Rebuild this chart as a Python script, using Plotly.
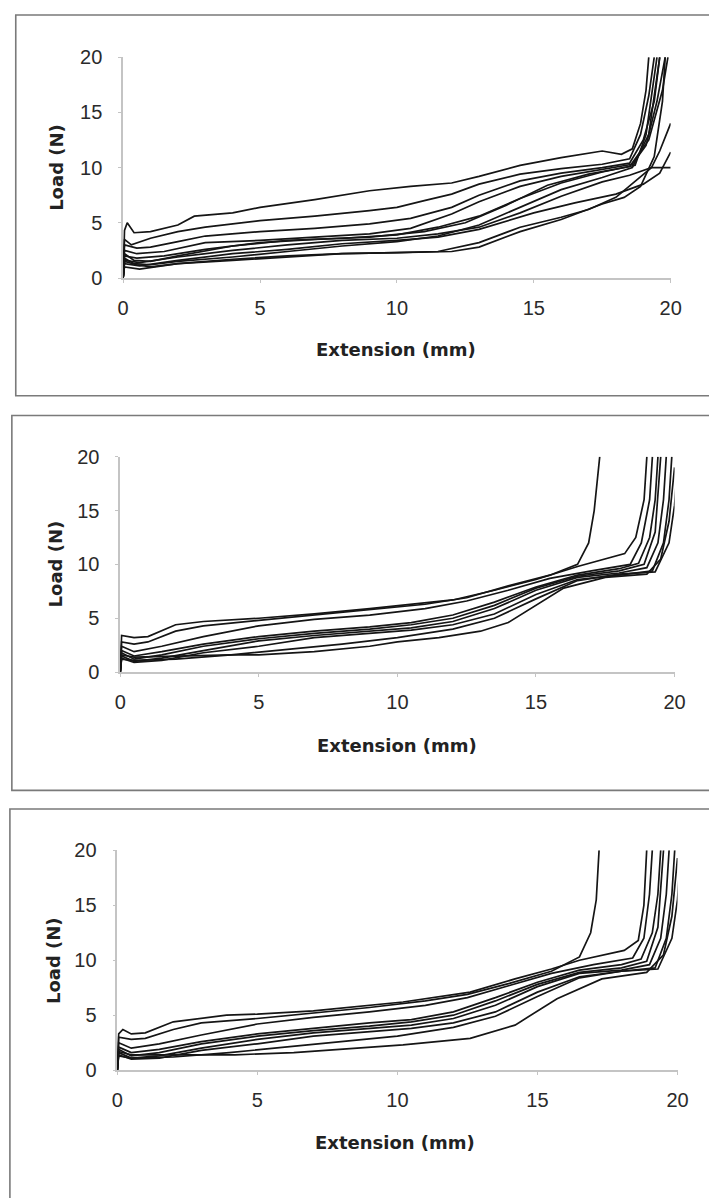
import plotly.graph_objects as go

W, H = 709, 1198

TICKS = [0, 5, 10, 15, 20]
X_TITLE = "Extension (mm)"
Y_TITLE = "Load (N)"

# ---------------- Panel 1 curves (extension mm, load N) ----------------
P1_A = ([0, 0.05, 0.15, 0.4, 1, 2, 2.6, 4, 5, 7, 9, 10.5, 12, 13, 14.5, 16, 17.5, 18.2, 18.6, 18.9, 19.1, 19.2],
        [0, 4.3, 5.0, 4.1, 4.2, 4.8, 5.6, 5.9, 6.4, 7.1, 7.9, 8.3, 8.6, 9.2, 10.2, 10.9, 11.5, 11.2, 11.7, 14.0, 17.0, 20.0])
P1_B = ([0, 0.05, 0.3, 1, 2, 3, 5, 7, 9, 10, 11, 12, 13, 14.5, 16, 17.5, 18.5, 18.9, 19.2, 19.4],
        [0, 3.5, 3.0, 3.6, 4.2, 4.6, 5.2, 5.6, 6.1, 6.4, 7.0, 7.6, 8.5, 9.4, 9.9, 10.3, 10.8, 13.0, 16.5, 20.0])
P1_C = ([0, 0.05, 0.5, 1, 2, 3, 5, 7, 9, 10.5, 12, 13, 14.5, 16, 17.5, 18.5, 19.0, 19.4, 19.6],
        [0, 3.0, 2.7, 2.8, 3.3, 3.8, 4.2, 4.5, 4.9, 5.4, 6.4, 7.5, 8.8, 9.5, 10.0, 10.4, 12.5, 16.0, 20.0])
P1_D = ([0, 0.05, 0.5, 1.5, 3, 5, 7, 9, 10.5, 12, 13, 14.5, 16, 17.5, 18.6, 19.1, 19.5, 19.8],
        [0, 2.5, 2.2, 2.4, 3.2, 3.4, 3.7, 4.0, 4.5, 5.8, 6.9, 8.3, 9.2, 9.8, 10.3, 12.0, 16.0, 20.0])
P1_E = ([0, 0.05, 0.5, 1.5, 3, 5, 7, 9, 11, 12.5, 14, 15.5, 17, 18.5, 19.2, 19.7, 19.9],
        [0, 2.0, 1.8, 2.0, 2.6, 3.2, 3.5, 3.7, 4.2, 5.0, 6.6, 8.4, 9.4, 10.1, 12.5, 17.0, 20.0])
P1_F = ([0, 0.05, 0.6, 2, 4, 6, 8, 10, 11.5, 13, 14.5, 16, 17.5, 18.5, 19.3, 19.6, 20.0],
        [0, 1.6, 1.4, 1.9, 2.5, 3.0, 3.4, 3.6, 4.0, 4.6, 5.9, 7.4, 8.7, 9.3, 10.0, 11.5, 14.0])
P1_G = ([0, 0.05, 0.6, 2, 4, 6, 8, 10, 11.5, 13, 15, 16.5, 18, 19, 19.6, 20.0],
        [0, 1.3, 1.1, 1.6, 2.2, 2.6, 3.1, 3.4, 3.7, 4.4, 5.9, 6.8, 7.6, 8.5, 9.5, 11.4])
P1_H = ([0, 0.05, 0.6, 2, 4, 6, 8, 10, 11.5, 13, 14.5, 16, 17, 18, 18.8, 19.3, 20.0],
        [0, 1.0, 0.8, 1.3, 1.6, 1.9, 2.2, 2.3, 2.4, 3.2, 4.6, 5.5, 6.2, 7.3, 9.0, 10.0, 10.0])
P1_I = ([0, 0.05, 0.5, 1, 2, 4, 6, 8, 10, 12, 13, 14.5, 16, 17.5, 18.3, 18.9, 19.4, 19.7, 19.8],
        [0, 1.5, 1.2, 1.0, 1.3, 1.7, 2.0, 2.2, 2.3, 2.4, 2.8, 4.2, 5.3, 6.7, 7.3, 8.3, 11.0, 16.0, 20.0])
P1_J = ([0, 0.05, 0.4, 1, 2, 4, 6, 8, 10, 11.5, 13, 14.5, 16, 17.5, 18.7, 19.1, 19.5],
        [0, 2.2, 1.6, 1.5, 2.0, 2.9, 3.4, 3.6, 3.9, 4.6, 5.6, 7.2, 8.6, 9.6, 10.2, 13.0, 20.0])
P1_K = ([0, 0.05, 0.4, 1, 2, 4, 6, 8, 10, 11.5, 13, 14.5, 16, 17.5, 18.6, 19.2, 19.6],
        [0, 1.8, 1.3, 1.2, 1.5, 1.9, 2.4, 2.9, 3.3, 3.8, 4.8, 6.4, 8.0, 9.1, 10.0, 13.0, 20.0])
PANEL1 = [P1_A, P1_B, P1_C, P1_D, P1_E, P1_F, P1_G, P1_H, P1_I, P1_J, P1_K]

# ---------------- Panel 2 curves ----------------
P2_A = ([0, 0.05, 0.5, 1, 2, 3, 5, 7, 9, 10.5, 12, 13.5, 15, 16.5, 17.5, 18.2, 18.6, 18.9, 19.0],
        [0, 3.4, 3.2, 3.3, 4.4, 4.7, 5.0, 5.4, 5.9, 6.3, 6.7, 7.6, 8.6, 9.8, 10.5, 11.0, 12.5, 16.0, 20.0])
P2_B = ([0, 0.05, 0.5, 1, 2, 3, 5, 7, 9, 11, 12.5, 14, 15.5, 16.5, 16.9, 17.1, 17.3],
        [0, 2.8, 2.6, 2.8, 3.8, 4.3, 4.8, 5.3, 5.8, 6.3, 6.9, 8.0, 9.0, 10.0, 12.0, 15.0, 20.0])
P2_C = ([0, 0.05, 0.5, 1.5, 3, 5, 7, 9, 11, 12.5, 14, 15.5, 17, 18.4, 18.8, 19.1, 19.2],
        [0, 2.4, 1.9, 2.4, 3.3, 4.3, 4.9, 5.3, 5.9, 6.6, 7.6, 8.7, 9.4, 10.0, 12.0, 16.0, 20.0])
P2_D = ([0, 0.05, 0.5, 1.5, 3, 5, 7, 9, 10.5, 12, 13.5, 15, 16.5, 18, 18.7, 19.1, 19.3, 19.4],
        [0, 2.0, 1.5, 1.9, 2.6, 3.3, 3.8, 4.2, 4.6, 5.3, 6.5, 7.9, 9.0, 9.6, 10.1, 12.5, 16.0, 20.0])
P2_E = ([0, 0.05, 0.5, 1.5, 3, 5, 7, 9, 10.5, 12, 13.5, 15, 16.5, 18, 18.9, 19.3, 19.5],
        [0, 1.8, 1.2, 1.6, 2.4, 3.1, 3.6, 4.0, 4.4, 5.0, 6.2, 7.8, 8.9, 9.4, 10.0, 13.0, 20.0])
P2_F = ([0, 0.05, 0.5, 1.5, 3, 5, 7, 9, 10.5, 12, 13.5, 15, 16.5, 18, 19.0, 19.4, 19.6, 19.7],
        [0, 1.5, 1.0, 1.3, 2.0, 2.9, 3.4, 3.8, 4.1, 4.7, 5.9, 7.6, 8.8, 9.2, 9.7, 12.0, 16.0, 20.0])
P2_G = ([0, 0.05, 0.5, 1.5, 3, 5, 7, 9, 10.5, 12, 13.5, 15, 16.5, 18, 19.2, 19.6, 19.8, 19.9],
        [0, 1.3, 0.9, 1.1, 1.8, 2.4, 3.2, 3.6, 3.9, 4.4, 5.4, 7.2, 8.6, 9.0, 9.4, 12.0, 16.0, 20.0])
P2_H = ([0, 0.05, 0.5, 2, 4, 6, 8, 10, 12, 13.5, 15, 16.5, 18, 19.3, 19.8, 20.0, 20.1],
        [0, 1.2, 1.1, 1.2, 1.6, 2.1, 2.6, 3.2, 4.0, 5.0, 6.8, 8.5, 9.1, 9.3, 12.0, 15.5, 19.0])
P2_I = ([0, 0.05, 0.5, 2, 4, 5, 7, 9, 10, 11.5, 13, 14, 15, 16, 17.5, 19, 19.5, 19.8, 20.0],
        [0, 1.6, 1.4, 1.5, 1.6, 1.6, 1.9, 2.4, 2.8, 3.2, 3.8, 4.6, 6.2, 7.8, 8.8, 9.1, 10.5, 14.0, 19.0])
PANEL2 = [P2_A, P2_B, P2_C, P2_D, P2_E, P2_F, P2_G, P2_H, P2_I]

# ---------------- Panel 3 curves ----------------
P3_A = ([0, 0.05, 0.2, 0.5, 1, 2, 3.9, 5, 7, 9, 10.2, 12.6, 14.2, 15.5, 16.5, 18.1, 18.6, 18.8, 18.9],
        [0, 3.3, 3.7, 3.3, 3.4, 4.4, 5.0, 5.1, 5.4, 5.9, 6.2, 7.1, 8.3, 9.2, 10.0, 10.9, 11.8, 15.0, 20.0])
P3_B = ([0, 0.05, 0.5, 1, 2, 3, 5, 7, 9, 11, 12.5, 14, 15.5, 16.5, 16.9, 17.1, 17.2],
        [0, 3.0, 2.8, 2.9, 3.7, 4.3, 4.7, 5.2, 5.7, 6.3, 6.9, 7.9, 9.0, 10.3, 12.5, 15.5, 20.0])
P3_C = ([0, 0.05, 0.5, 1.5, 3, 5, 7, 9, 11, 12.5, 14, 15.5, 17, 18.4, 18.8, 19.0, 19.1],
        [0, 2.5, 2.0, 2.4, 3.2, 4.2, 4.8, 5.3, 5.9, 6.6, 7.7, 8.8, 9.6, 10.2, 12.0, 16.0, 20.0])
P3_D = ([0, 0.05, 0.5, 1.5, 3, 5, 7, 9, 10.5, 12, 13.5, 15, 16.5, 18, 18.7, 19.1, 19.3, 19.4],
        [0, 2.1, 1.6, 1.9, 2.6, 3.3, 3.8, 4.3, 4.6, 5.3, 6.6, 8.0, 9.1, 9.6, 10.1, 12.5, 16.0, 20.0])
P3_E = ([0, 0.05, 0.5, 1.5, 3, 5, 7, 9, 10.5, 12, 13.5, 15, 16.5, 18, 18.9, 19.3, 19.5],
        [0, 1.9, 1.3, 1.6, 2.4, 3.1, 3.6, 4.0, 4.4, 5.0, 6.3, 7.8, 8.9, 9.3, 9.9, 13.0, 20.0])
P3_F = ([0, 0.05, 0.5, 1.5, 3, 5, 7, 9, 10.5, 12, 13.5, 15, 16.5, 18, 19.0, 19.4, 19.6, 19.7],
        [0, 1.6, 1.1, 1.3, 2.0, 2.8, 3.4, 3.8, 4.1, 4.7, 5.9, 7.6, 8.8, 9.1, 9.6, 12.0, 16.0, 20.0])
P3_G = ([0, 0.05, 0.5, 1.5, 3, 5, 7, 9, 10.5, 12, 13.5, 15, 16.5, 18, 19.2, 19.6, 19.8, 19.9],
        [0, 1.4, 1.0, 1.1, 1.8, 2.4, 3.1, 3.5, 3.8, 4.3, 5.3, 7.1, 8.5, 9.0, 9.3, 12.0, 16.0, 20.0])
P3_H = ([0, 0.05, 0.5, 2, 4, 6, 8, 10, 12, 13.5, 15, 16.5, 18, 19.3, 19.8, 20.0, 20.1],
        [0, 1.3, 1.1, 1.2, 1.6, 2.1, 2.6, 3.1, 3.9, 4.9, 6.7, 8.4, 9.0, 9.2, 12.0, 15.5, 19.3])
P3_I = ([0, 0.05, 0.5, 2, 4.2, 6.3, 8.6, 10.2, 12.6, 14.2, 15.7, 17.3, 18.9, 19.5, 19.8, 20.0],
        [0, 1.7, 1.4, 1.4, 1.4, 1.6, 2.0, 2.3, 2.9, 4.1, 6.5, 8.3, 8.9, 10.5, 14.0, 19.3])
PANEL3 = [P3_A, P3_B, P3_C, P3_D, P3_E, P3_F, P3_G, P3_H, P3_I]

PANELS = [PANEL1, PANEL2, PANEL3]

# ---------------- geometry (pixels) ----------------
GEOM = [
    dict(x0=120, x1=681, y0=272, y1=47, box=(10, 4, 740, 392), xt=(400, 345), yt=(51, 159)),
    dict(x0=117, x1=685, y0=673.5, y1=454, box=(6, 412, 740, 794), xt=(401, 748), yt=(51, 563)),
    dict(x0=114, x1=688, y0=1079, y1=855, box=(4, 813, 740, 1260), xt=(399, 1153), yt=(48, 967)),
]


def px(x):
    return x / W


def py(y):
    return 1 - y / H


fig = go.Figure()
LINE_COLOR = "#151515"
AXIS_COLOR = "#c4c4c4"
TICK_FONT = dict(family="Liberation Sans, Arial, sans-serif", size=20, color="#2a2a2a")
TITLE_FONT = dict(family="DejaVu Sans, sans-serif", size=18, color="#222222")

shapes = []
annotations = []
for i, (curves, g) in enumerate(zip(PANELS, GEOM), start=1):
    xa = "x" if i == 1 else f"x{i}"
    ya = "y" if i == 1 else f"y{i}"
    for xs, ys in curves:
        fig.add_trace(go.Scatter(x=xs, y=ys, mode="lines", xaxis=xa, yaxis=ya,
                                 line=dict(color=LINE_COLOR, width=1.7),
                                 showlegend=False, hoverinfo="skip"))
    axis_common = dict(range=[0, 20], tickvals=TICKS, ticktext=[str(t) for t in TICKS],
                       showgrid=False, zeroline=False, showline=True,
                       linecolor=AXIS_COLOR, linewidth=1.5, ticks="outside",
                       ticklen=3, tickcolor=AXIS_COLOR, tickfont=TICK_FONT,
                       fixedrange=True)
    xkey = "xaxis" if i == 1 else f"xaxis{i}"
    ykey = "yaxis" if i == 1 else f"yaxis{i}"
    fig.update_layout(**{
        xkey: dict(axis_common, domain=[px(g["x0"]), px(g["x1"])], anchor=ya,
                   ticklabelstandoff=8),
        ykey: dict(axis_common, domain=[py(g["y0"]), py(g["y1"])], anchor=xa,
                   ticklabelstandoff=12),
    })
    bx0, by0, bx1, by1 = g["box"]
    shapes.append(dict(type="rect", xref="paper", yref="paper",
                       x0=px(bx0), x1=px(bx1), y0=py(by1), y1=py(by0),
                       line=dict(color="#7a7a7a", width=1.6), fillcolor="rgba(0,0,0,0)"))
    annotations.append(dict(text=f"<b>{X_TITLE}</b>", xref="paper", yref="paper",
                            x=px(g["xt"][0]), y=py(g["xt"][1]), showarrow=False,
                            xanchor="center", yanchor="middle", font=TITLE_FONT))
    annotations.append(dict(text=f"<b>{Y_TITLE}</b>", xref="paper", yref="paper",
                            x=px(g["yt"][0]), y=py(g["yt"][1]), showarrow=False,
                            xanchor="center", yanchor="middle", textangle=-90,
                            font=TITLE_FONT))

fig.update_layout(width=W, height=H, margin=dict(l=0, r=0, t=0, b=0),
                  paper_bgcolor="white", plot_bgcolor="white",
                  shapes=shapes, annotations=annotations, showlegend=False)

fig.write_html("out.html", config=dict(displayModeBar=False))
